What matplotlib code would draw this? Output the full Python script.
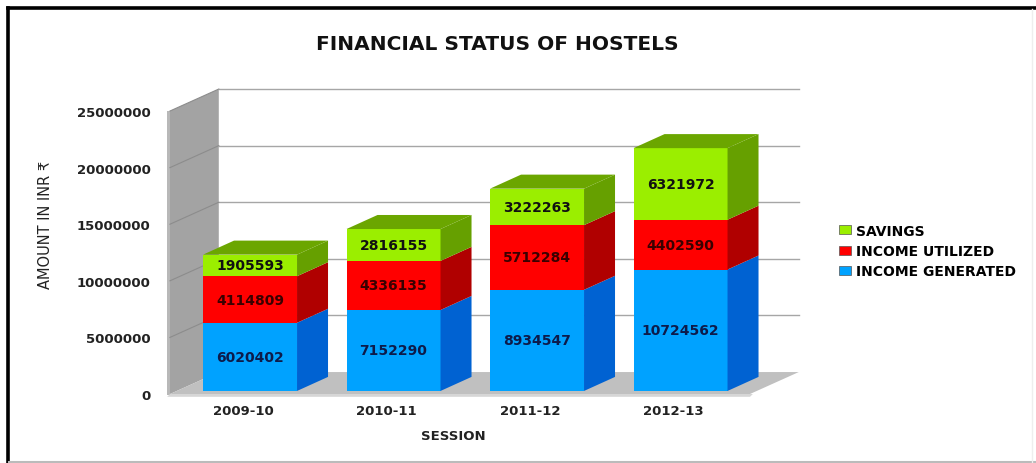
import numpy as np
import matplotlib
matplotlib.use("Agg")
import matplotlib.pyplot as plt
from matplotlib.patches import Polygon, Patch
from matplotlib.lines import Line2D

sessions = ['2009-10', '2010-11', '2011-12', '2012-13']
income_generated = [6020402, 7152290, 8934547, 10724562]
income_utilized = [4114809, 4336135, 5712284, 4402590]
savings = [1905593, 2816155, 3222263, 6321972]

series_names = ['INCOME GENERATED', 'INCOME UTILIZED', 'SAVINGS']
series_values = [income_generated, income_utilized, savings]
front_colors = ['#00A2FF', '#FF0000', '#9BEE00']
side_colors = ['#0062D2', '#B00000', '#66A000']
text_colors = ['#0D1B4A', '#3A0000', '#111111']

y_ticks = [0, 5000000, 10000000, 15000000, 20000000, 25000000]

# fake 3D offsets (x in category units, y in amount units)
wall_dx, wall_dy = 0.34, 1.94e6
bar_dx, bar_dy = 0.216, 1.24e6
bar_x0, bar_y0 = 0.049, 0.27e6
bar_w = 0.655

fig = plt.figure(figsize=(10.36, 4.64), dpi=100)
ax = fig.add_axes([170 / 1036, 69 / 464, 580 / 1036, 283 / 464])
xmin, xmax = -0.5087, 3.5331
ymax = y_ticks[-1]
ax.set_xlim(xmin, xmax)
ax.set_ylim(0, ymax)
for s in ax.spines.values():
    s.set_visible(False)
ax.patch.set_alpha(0)

# side wall
ax.add_patch(Polygon([(xmin, 0), (xmin, ymax), (xmin + wall_dx, ymax + wall_dy),
                      (xmin + wall_dx, wall_dy)], closed=True, facecolor='#A3A3A3',
                     edgecolor='none', clip_on=False, zorder=1))
ax.add_patch(Polygon([(xmin - 0.02, -0.1e6), (xmin - 0.02, ymax), (xmin, ymax), (xmin, -0.1e6)],
                     closed=True, facecolor='#B8B8B8', edgecolor='none', clip_on=False, zorder=1))
# floor
ax.add_patch(Polygon([(xmin, 0), (xmax, 0), (xmax + wall_dx, wall_dy), (xmin + wall_dx, wall_dy)],
                     closed=True, facecolor='#C0C0C0', edgecolor='none', clip_on=False, zorder=1))
ax.add_patch(Polygon([(xmin - 0.02, -0.25e6), (xmax, -0.25e6), (xmax + 0.02, 0), (xmin, 0)],
                     closed=True, facecolor='#D6D6D6', edgecolor='none', clip_on=False, zorder=1))

# gridlines on back wall and side wall
for t in y_ticks[1:]:
    ax.plot([xmin + wall_dx, xmax + wall_dx], [t + wall_dy, t + wall_dy], color='#A6A6A6',
            lw=1, clip_on=False, zorder=1.5)
    ax.plot([xmin, xmin + wall_dx], [t, t + wall_dy], color='#8C8C8C', lw=0.8,
            clip_on=False, zorder=1.5)

# bars
x = np.arange(len(sessions))
bottoms = np.zeros(len(sessions))
for k, (name, vals) in enumerate(zip(series_names, series_values)):
    vals = np.array(vals, dtype=float)
    ax.bar(x + bar_x0, vals, bar_w, bottom=bottoms + bar_y0, color=front_colors[k],
           edgecolor='none', label=name, zorder=3, clip_on=False)
    for i in range(len(sessions)):
        xr = x[i] + bar_x0 + bar_w / 2
        xl = x[i] + bar_x0 - bar_w / 2
        yb = bottoms[i] + bar_y0
        yt = yb + vals[i]
        ax.add_patch(Polygon([(xr, yb), (xr + bar_dx, yb + bar_dy), (xr + bar_dx, yt + bar_dy), (xr, yt)],
                             closed=True, facecolor=side_colors[k], edgecolor='none',
                             zorder=3, clip_on=False))
        if k == len(series_values) - 1:
            ax.add_patch(Polygon([(xl, yt), (xr, yt), (xr + bar_dx, yt + bar_dy), (xl + bar_dx, yt + bar_dy)],
                                 closed=True, facecolor='#6BA600', edgecolor='none',
                                 zorder=3, clip_on=False))
        ax.text(x[i] + bar_x0, yb + vals[i] / 2, f'{int(vals[i])}', ha='center', va='center',
                fontsize=10, fontweight='bold', color=text_colors[k], zorder=4)
    bottoms += vals

ax.set_yticks(y_ticks)
ax.set_yticklabels([str(t) for t in y_ticks], fontsize=9.5, fontweight='bold', color='#222222')
ax.set_xticks(x)
ax.set_xticklabels(sessions, fontsize=9.5, fontweight='bold', color='#222222')
ax.tick_params(axis='y', length=0, pad=14)
ax.tick_params(axis='x', length=0, pad=7)

fig.text(497 / 1036, 1 - 44 / 464, 'FINANCIAL STATUS OF HOSTELS', ha='center', va='center',
         fontsize=14.5, fontweight='bold', color='#111111')
fig.text(453 / 1036, 1 - 437 / 464, 'SESSION', ha='center', va='center',
         fontsize=9.5, fontweight='bold', color='#222222')
fig.text(45 / 1036, 1 - 225 / 464, 'AMOUNT IN INR \u20b9', ha='center', va='center', rotation=90,
         fontsize=10.5, family=['Liberation Sans Narrow', 'DejaVu Sans'], color='#222222')

handles = [Patch(facecolor=front_colors[k], edgecolor='#555555', linewidth=0.5, label=series_names[k])
           for k in (2, 1, 0)]
fig.legend(handles=handles, loc='center left', bbox_to_anchor=(826 / 1036, 1 - 252 / 464),
           frameon=False, handlelength=0.9, handleheight=0.6, handletextpad=0.35,
           labelspacing=0.45, prop={'weight': 'bold', 'size': 10})

# outer frame
fig.add_artist(Line2D([7.5 / 1036, 7.5 / 1036], [0, 1 - 8.5 / 464], color='black', lw=2.6,
                      solid_capstyle='projecting'))
fig.add_artist(Line2D([7.5 / 1036, 1], [1 - 8.5 / 464, 1 - 8.5 / 464], color='black', lw=2.6,
                      solid_capstyle='projecting'))
fig.add_artist(Line2D([9 / 1036, 1], [1.5 / 464, 1.5 / 464], color='#BBBBBB', lw=1.5))
fig.add_artist(Line2D([1032 / 1036, 1032 / 1036], [0, 1 - 10 / 464], color='#EEEEEE', lw=1))

fig.savefig('out.png', dpi=100)
